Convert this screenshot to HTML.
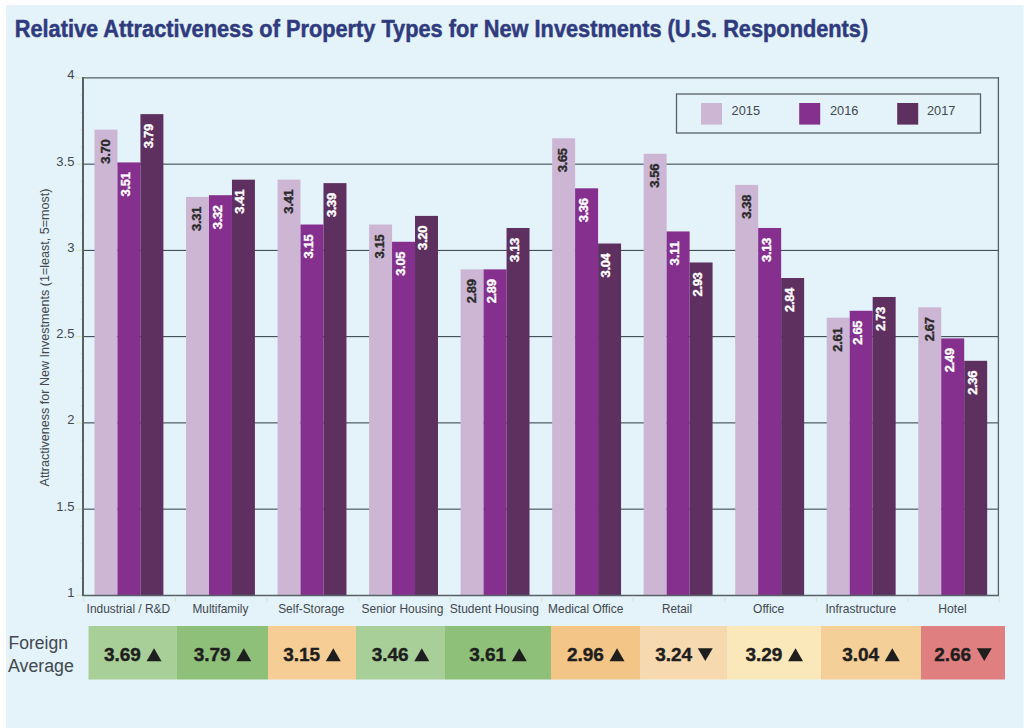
<!DOCTYPE html>
<html><head><meta charset="utf-8"><style>
html,body{margin:0;padding:0;background:#fff;}
body{width:1024px;height:728px;overflow:hidden;}
svg{display:block;}
text{font-family:"Liberation Sans",Arial,sans-serif;}
</style></head><body>
<svg width="1024" height="728" viewBox="0 0 1024 728">
<rect x="0" y="0" width="1024" height="728" fill="#ffffff"/>
<rect x="6" y="5" width="1017" height="723" fill="#e4f2fa"/>
<rect x="1023" y="5" width="1" height="723" fill="#eef8fc"/>

<text x="14.7" y="36.8" font-size="23.8" font-weight="bold" fill="#2f3b7e" stroke="#2f3b7e" stroke-width="0.5" textLength="853.5" lengthAdjust="spacingAndGlyphs">Relative Attractiveness of Property Types for New Investments (U.S. Respondents)</text>
<line x1="84.0" y1="77.90" x2="998.4" y2="77.90" stroke="#2e3b42" stroke-width="1"/>
<line x1="84.0" y1="164.15" x2="998.4" y2="164.15" stroke="#2e3b42" stroke-width="1"/>
<line x1="84.0" y1="250.40" x2="998.4" y2="250.40" stroke="#2e3b42" stroke-width="1"/>
<line x1="84.0" y1="336.65" x2="998.4" y2="336.65" stroke="#2e3b42" stroke-width="1"/>
<line x1="84.0" y1="422.90" x2="998.4" y2="422.90" stroke="#2e3b42" stroke-width="1"/>
<line x1="84.0" y1="509.15" x2="998.4" y2="509.15" stroke="#2e3b42" stroke-width="1"/>
<line x1="76" y1="595.40" x2="82" y2="595.40" stroke="#d9e8b4" stroke-width="1"/>
<line x1="80" y1="578.15" x2="82" y2="578.15" stroke="#dce9d0" stroke-width="1"/>
<line x1="80" y1="560.90" x2="82" y2="560.90" stroke="#dce9d0" stroke-width="1"/>
<line x1="80" y1="543.65" x2="82" y2="543.65" stroke="#dce9d0" stroke-width="1"/>
<line x1="80" y1="526.40" x2="82" y2="526.40" stroke="#dce9d0" stroke-width="1"/>
<line x1="76" y1="509.15" x2="82" y2="509.15" stroke="#d9e8b4" stroke-width="1"/>
<line x1="80" y1="491.90" x2="82" y2="491.90" stroke="#dce9d0" stroke-width="1"/>
<line x1="80" y1="474.65" x2="82" y2="474.65" stroke="#dce9d0" stroke-width="1"/>
<line x1="80" y1="457.40" x2="82" y2="457.40" stroke="#dce9d0" stroke-width="1"/>
<line x1="80" y1="440.15" x2="82" y2="440.15" stroke="#dce9d0" stroke-width="1"/>
<line x1="76" y1="422.90" x2="82" y2="422.90" stroke="#d9e8b4" stroke-width="1"/>
<line x1="80" y1="405.65" x2="82" y2="405.65" stroke="#dce9d0" stroke-width="1"/>
<line x1="80" y1="388.40" x2="82" y2="388.40" stroke="#dce9d0" stroke-width="1"/>
<line x1="80" y1="371.15" x2="82" y2="371.15" stroke="#dce9d0" stroke-width="1"/>
<line x1="80" y1="353.90" x2="82" y2="353.90" stroke="#dce9d0" stroke-width="1"/>
<line x1="76" y1="336.65" x2="82" y2="336.65" stroke="#d9e8b4" stroke-width="1"/>
<line x1="80" y1="319.40" x2="82" y2="319.40" stroke="#dce9d0" stroke-width="1"/>
<line x1="80" y1="302.15" x2="82" y2="302.15" stroke="#dce9d0" stroke-width="1"/>
<line x1="80" y1="284.90" x2="82" y2="284.90" stroke="#dce9d0" stroke-width="1"/>
<line x1="80" y1="267.65" x2="82" y2="267.65" stroke="#dce9d0" stroke-width="1"/>
<line x1="76" y1="250.40" x2="82" y2="250.40" stroke="#d9e8b4" stroke-width="1"/>
<line x1="80" y1="233.15" x2="82" y2="233.15" stroke="#dce9d0" stroke-width="1"/>
<line x1="80" y1="215.90" x2="82" y2="215.90" stroke="#dce9d0" stroke-width="1"/>
<line x1="80" y1="198.65" x2="82" y2="198.65" stroke="#dce9d0" stroke-width="1"/>
<line x1="80" y1="181.40" x2="82" y2="181.40" stroke="#dce9d0" stroke-width="1"/>
<line x1="76" y1="164.15" x2="82" y2="164.15" stroke="#d9e8b4" stroke-width="1"/>
<line x1="80" y1="146.90" x2="82" y2="146.90" stroke="#dce9d0" stroke-width="1"/>
<line x1="80" y1="129.65" x2="82" y2="129.65" stroke="#dce9d0" stroke-width="1"/>
<line x1="80" y1="112.40" x2="82" y2="112.40" stroke="#dce9d0" stroke-width="1"/>
<line x1="80" y1="95.15" x2="82" y2="95.15" stroke="#dce9d0" stroke-width="1"/>
<line x1="76" y1="77.90" x2="82" y2="77.90" stroke="#d9e8b4" stroke-width="1"/>
<text x="74.4" y="79.40" font-size="13" fill="#41484e" text-anchor="end">4</text>
<text x="74.4" y="165.65" font-size="13" fill="#41484e" text-anchor="end">3.5</text>
<text x="74.4" y="251.90" font-size="13" fill="#41484e" text-anchor="end">3</text>
<text x="74.4" y="338.15" font-size="13" fill="#41484e" text-anchor="end">2.5</text>
<text x="74.4" y="424.40" font-size="13" fill="#41484e" text-anchor="end">2</text>
<text x="74.4" y="510.65" font-size="13" fill="#41484e" text-anchor="end">1.5</text>
<text x="74.4" y="596.90" font-size="13" fill="#41484e" text-anchor="end">1</text>
<text transform="translate(49.1,486.5) rotate(-90)" font-size="12.4" fill="#41484e" textLength="298" lengthAdjust="spacingAndGlyphs">Attractiveness for New Investments (1=least, 5=most)</text>
<rect x="94.49" y="129.65" width="22.97" height="466.35" fill="#cdb6d3"/>
<text transform="translate(109.82,139.35) rotate(-90)" font-size="13" font-weight="bold" fill="#2a2a2a" stroke="#2a2a2a" stroke-width="0.35" text-anchor="end" textLength="24.3" lengthAdjust="spacing">3.70</text>
<rect x="117.46" y="162.43" width="22.97" height="433.57" fill="#85308f"/>
<text transform="translate(130.09,172.13) rotate(-90)" font-size="13" font-weight="bold" fill="#ffffff" stroke="#ffffff" stroke-width="0.35" text-anchor="end" textLength="24.3" lengthAdjust="spacing">3.51</text>
<rect x="140.43" y="114.12" width="22.97" height="481.88" fill="#5e3060"/>
<text transform="translate(152.82,123.83) rotate(-90)" font-size="13" font-weight="bold" fill="#ffffff" stroke="#ffffff" stroke-width="0.35" text-anchor="end" textLength="24.3" lengthAdjust="spacing">3.79</text>
<rect x="186.02" y="196.93" width="22.97" height="399.07" fill="#cdb6d3"/>
<text transform="translate(201.35,206.62) rotate(-90)" font-size="13" font-weight="bold" fill="#2a2a2a" stroke="#2a2a2a" stroke-width="0.35" text-anchor="end" textLength="24.3" lengthAdjust="spacing">3.31</text>
<rect x="208.99" y="195.20" width="22.97" height="400.80" fill="#85308f"/>
<text transform="translate(221.63,204.90) rotate(-90)" font-size="13" font-weight="bold" fill="#ffffff" stroke="#ffffff" stroke-width="0.35" text-anchor="end" textLength="24.3" lengthAdjust="spacing">3.32</text>
<rect x="231.96" y="179.67" width="22.97" height="416.33" fill="#5e3060"/>
<text transform="translate(244.34,189.37) rotate(-90)" font-size="13" font-weight="bold" fill="#ffffff" stroke="#ffffff" stroke-width="0.35" text-anchor="end" textLength="24.3" lengthAdjust="spacing">3.41</text>
<rect x="277.55" y="179.67" width="22.97" height="416.33" fill="#cdb6d3"/>
<text transform="translate(292.89,189.37) rotate(-90)" font-size="13" font-weight="bold" fill="#2a2a2a" stroke="#2a2a2a" stroke-width="0.35" text-anchor="end" textLength="24.3" lengthAdjust="spacing">3.41</text>
<rect x="300.52" y="224.53" width="22.97" height="371.47" fill="#85308f"/>
<text transform="translate(313.15,234.23) rotate(-90)" font-size="13" font-weight="bold" fill="#ffffff" stroke="#ffffff" stroke-width="0.35" text-anchor="end" textLength="24.3" lengthAdjust="spacing">3.15</text>
<rect x="323.49" y="183.12" width="22.97" height="412.88" fill="#5e3060"/>
<text transform="translate(335.88,192.82) rotate(-90)" font-size="13" font-weight="bold" fill="#ffffff" stroke="#ffffff" stroke-width="0.35" text-anchor="end" textLength="24.3" lengthAdjust="spacing">3.39</text>
<rect x="369.08" y="224.53" width="22.97" height="371.47" fill="#cdb6d3"/>
<text transform="translate(384.42,234.23) rotate(-90)" font-size="13" font-weight="bold" fill="#2a2a2a" stroke="#2a2a2a" stroke-width="0.35" text-anchor="end" textLength="24.3" lengthAdjust="spacing">3.15</text>
<rect x="392.05" y="241.78" width="22.97" height="354.22" fill="#85308f"/>
<text transform="translate(404.69,251.48) rotate(-90)" font-size="13" font-weight="bold" fill="#ffffff" stroke="#ffffff" stroke-width="0.35" text-anchor="end" textLength="24.3" lengthAdjust="spacing">3.05</text>
<rect x="415.02" y="215.90" width="22.97" height="380.10" fill="#5e3060"/>
<text transform="translate(427.41,225.60) rotate(-90)" font-size="13" font-weight="bold" fill="#ffffff" stroke="#ffffff" stroke-width="0.35" text-anchor="end" textLength="24.3" lengthAdjust="spacing">3.20</text>
<rect x="460.61" y="269.38" width="22.97" height="326.62" fill="#cdb6d3"/>
<text transform="translate(475.95,279.07) rotate(-90)" font-size="13" font-weight="bold" fill="#2a2a2a" stroke="#2a2a2a" stroke-width="0.35" text-anchor="end" textLength="24.3" lengthAdjust="spacing">2.89</text>
<rect x="483.58" y="269.38" width="22.97" height="326.62" fill="#85308f"/>
<text transform="translate(496.22,279.07) rotate(-90)" font-size="13" font-weight="bold" fill="#ffffff" stroke="#ffffff" stroke-width="0.35" text-anchor="end" textLength="24.3" lengthAdjust="spacing">2.89</text>
<rect x="506.55" y="227.98" width="22.97" height="368.02" fill="#5e3060"/>
<text transform="translate(518.93,237.68) rotate(-90)" font-size="13" font-weight="bold" fill="#ffffff" stroke="#ffffff" stroke-width="0.35" text-anchor="end" textLength="24.3" lengthAdjust="spacing">3.13</text>
<rect x="552.14" y="138.28" width="22.97" height="457.72" fill="#cdb6d3"/>
<text transform="translate(567.48,147.98) rotate(-90)" font-size="13" font-weight="bold" fill="#2a2a2a" stroke="#2a2a2a" stroke-width="0.35" text-anchor="end" textLength="24.3" lengthAdjust="spacing">3.65</text>
<rect x="575.11" y="188.30" width="22.97" height="407.70" fill="#85308f"/>
<text transform="translate(587.75,198.00) rotate(-90)" font-size="13" font-weight="bold" fill="#ffffff" stroke="#ffffff" stroke-width="0.35" text-anchor="end" textLength="24.3" lengthAdjust="spacing">3.36</text>
<rect x="598.08" y="243.50" width="22.97" height="352.50" fill="#5e3060"/>
<text transform="translate(610.46,253.20) rotate(-90)" font-size="13" font-weight="bold" fill="#ffffff" stroke="#ffffff" stroke-width="0.35" text-anchor="end" textLength="24.3" lengthAdjust="spacing">3.04</text>
<rect x="643.67" y="153.80" width="22.97" height="442.20" fill="#cdb6d3"/>
<text transform="translate(659.01,163.50) rotate(-90)" font-size="13" font-weight="bold" fill="#2a2a2a" stroke="#2a2a2a" stroke-width="0.35" text-anchor="end" textLength="24.3" lengthAdjust="spacing">3.56</text>
<rect x="666.64" y="231.43" width="22.97" height="364.57" fill="#85308f"/>
<text transform="translate(679.28,241.13) rotate(-90)" font-size="13" font-weight="bold" fill="#ffffff" stroke="#ffffff" stroke-width="0.35" text-anchor="end" textLength="24.3" lengthAdjust="spacing">3.11</text>
<rect x="689.61" y="262.47" width="22.97" height="333.53" fill="#5e3060"/>
<text transform="translate(702.00,272.17) rotate(-90)" font-size="13" font-weight="bold" fill="#ffffff" stroke="#ffffff" stroke-width="0.35" text-anchor="end" textLength="24.3" lengthAdjust="spacing">2.93</text>
<rect x="735.20" y="184.85" width="22.97" height="411.15" fill="#cdb6d3"/>
<text transform="translate(750.54,194.55) rotate(-90)" font-size="13" font-weight="bold" fill="#2a2a2a" stroke="#2a2a2a" stroke-width="0.35" text-anchor="end" textLength="24.3" lengthAdjust="spacing">3.38</text>
<rect x="758.17" y="227.98" width="22.97" height="368.02" fill="#85308f"/>
<text transform="translate(770.81,237.68) rotate(-90)" font-size="13" font-weight="bold" fill="#ffffff" stroke="#ffffff" stroke-width="0.35" text-anchor="end" textLength="24.3" lengthAdjust="spacing">3.13</text>
<rect x="781.14" y="278.00" width="22.97" height="318.00" fill="#5e3060"/>
<text transform="translate(793.53,287.70) rotate(-90)" font-size="13" font-weight="bold" fill="#ffffff" stroke="#ffffff" stroke-width="0.35" text-anchor="end" textLength="24.3" lengthAdjust="spacing">2.84</text>
<rect x="826.73" y="317.68" width="22.97" height="278.32" fill="#cdb6d3"/>
<text transform="translate(842.07,327.38) rotate(-90)" font-size="13" font-weight="bold" fill="#2a2a2a" stroke="#2a2a2a" stroke-width="0.35" text-anchor="end" textLength="24.3" lengthAdjust="spacing">2.61</text>
<rect x="849.70" y="310.78" width="22.97" height="285.22" fill="#85308f"/>
<text transform="translate(862.34,320.48) rotate(-90)" font-size="13" font-weight="bold" fill="#ffffff" stroke="#ffffff" stroke-width="0.35" text-anchor="end" textLength="24.3" lengthAdjust="spacing">2.65</text>
<rect x="872.67" y="296.98" width="22.97" height="299.02" fill="#5e3060"/>
<text transform="translate(885.06,306.68) rotate(-90)" font-size="13" font-weight="bold" fill="#ffffff" stroke="#ffffff" stroke-width="0.35" text-anchor="end" textLength="24.3" lengthAdjust="spacing">2.73</text>
<rect x="918.26" y="307.33" width="22.97" height="288.67" fill="#cdb6d3"/>
<text transform="translate(933.60,317.03) rotate(-90)" font-size="13" font-weight="bold" fill="#2a2a2a" stroke="#2a2a2a" stroke-width="0.35" text-anchor="end" textLength="24.3" lengthAdjust="spacing">2.67</text>
<rect x="941.23" y="338.38" width="22.97" height="257.62" fill="#85308f"/>
<text transform="translate(953.87,348.07) rotate(-90)" font-size="13" font-weight="bold" fill="#ffffff" stroke="#ffffff" stroke-width="0.35" text-anchor="end" textLength="24.3" lengthAdjust="spacing">2.49</text>
<rect x="964.20" y="360.80" width="22.97" height="235.20" fill="#5e3060"/>
<text transform="translate(976.59,370.50) rotate(-90)" font-size="13" font-weight="bold" fill="#ffffff" stroke="#ffffff" stroke-width="0.35" text-anchor="end" textLength="24.3" lengthAdjust="spacing">2.36</text>
<line x1="83" y1="77" x2="83" y2="596" stroke="#576066" stroke-width="2"/>
<line x1="82" y1="595.5" x2="998.4" y2="595.5" stroke="#576066" stroke-width="1.3"/>
<line x1="998.4" y1="77" x2="998.4" y2="596" stroke="#576066" stroke-width="1.3"/>
<line x1="84.00" y1="596" x2="84.00" y2="602" stroke="#d6e4d4" stroke-width="1"/>
<line x1="175.53" y1="596" x2="175.53" y2="602" stroke="#d6e4d4" stroke-width="1"/>
<line x1="267.06" y1="596" x2="267.06" y2="602" stroke="#d6e4d4" stroke-width="1"/>
<line x1="358.59" y1="596" x2="358.59" y2="602" stroke="#d6e4d4" stroke-width="1"/>
<line x1="450.12" y1="596" x2="450.12" y2="602" stroke="#d6e4d4" stroke-width="1"/>
<line x1="541.65" y1="596" x2="541.65" y2="602" stroke="#d6e4d4" stroke-width="1"/>
<line x1="633.18" y1="596" x2="633.18" y2="602" stroke="#d6e4d4" stroke-width="1"/>
<line x1="724.71" y1="596" x2="724.71" y2="602" stroke="#d6e4d4" stroke-width="1"/>
<line x1="816.24" y1="596" x2="816.24" y2="602" stroke="#d6e4d4" stroke-width="1"/>
<line x1="907.77" y1="596" x2="907.77" y2="602" stroke="#d6e4d4" stroke-width="1"/>
<line x1="999.30" y1="596" x2="999.30" y2="602" stroke="#d6e4d4" stroke-width="1"/>
<text x="128.40" y="613.2" font-size="13.6" fill="#41484e" text-anchor="middle" textLength="83.6" lengthAdjust="spacingAndGlyphs">Industrial / R&amp;D</text>
<text x="220.40" y="613.2" font-size="13.6" fill="#41484e" text-anchor="middle" textLength="55.8" lengthAdjust="spacingAndGlyphs">Multifamily</text>
<text x="311.30" y="613.2" font-size="13.6" fill="#41484e" text-anchor="middle" textLength="66.3" lengthAdjust="spacingAndGlyphs">Self-Storage</text>
<text x="402.40" y="613.2" font-size="13.6" fill="#41484e" text-anchor="middle" textLength="81.8" lengthAdjust="spacingAndGlyphs">Senior Housing</text>
<text x="494.30" y="613.2" font-size="13.6" fill="#41484e" text-anchor="middle" textLength="89.1" lengthAdjust="spacingAndGlyphs">Student Housing</text>
<text x="585.70" y="613.2" font-size="13.6" fill="#41484e" text-anchor="middle" textLength="75.2" lengthAdjust="spacingAndGlyphs">Medical Office</text>
<text x="677.10" y="613.2" font-size="13.6" fill="#41484e" text-anchor="middle" textLength="30.0" lengthAdjust="spacingAndGlyphs">Retail</text>
<text x="768.70" y="613.2" font-size="13.6" fill="#41484e" text-anchor="middle" textLength="31.2" lengthAdjust="spacingAndGlyphs">Office</text>
<text x="860.80" y="613.2" font-size="13.6" fill="#41484e" text-anchor="middle" textLength="70.8" lengthAdjust="spacingAndGlyphs">Infrastructure</text>
<text x="952.50" y="613.2" font-size="13.6" fill="#41484e" text-anchor="middle" textLength="28.4" lengthAdjust="spacingAndGlyphs">Hotel</text>
<rect x="676.5" y="94" width="304" height="39" fill="none" stroke="#576066" stroke-width="1.3"/>
<rect x="701" y="103" width="21" height="21.6" fill="#cdb6d3"/>
<text x="731.6" y="114.6" font-size="13" fill="#41484e" textLength="28.4" lengthAdjust="spacingAndGlyphs">2015</text>
<rect x="799.2" y="103" width="21" height="21.6" fill="#85308f"/>
<text x="830" y="114.6" font-size="13" fill="#41484e" textLength="28.4" lengthAdjust="spacingAndGlyphs">2016</text>
<rect x="897.2" y="103" width="21" height="21.6" fill="#5e3060"/>
<text x="927" y="114.6" font-size="13" fill="#41484e" textLength="28.4" lengthAdjust="spacingAndGlyphs">2017</text>
<text x="8.6" y="648.8" font-size="18" fill="#41484e" textLength="59.4" lengthAdjust="spacingAndGlyphs">Foreign</text>
<text x="8.0" y="672.1" font-size="18" fill="#41484e" textLength="65.8" lengthAdjust="spacingAndGlyphs">Average</text>
<rect x="88.5" y="626" width="88.5" height="53.5" fill="#a9cf98"/>
<text x="103.96" y="661.4" font-size="19.0" font-weight="bold" fill="#1e1e1e" stroke="#1e1e1e" stroke-width="0.4">3.69</text>
<polygon points="146.54,661.2 161.54,661.2 154.04,648.2" fill="#1e1e1e"/>
<rect x="177" y="626" width="91" height="53.5" fill="#8fc07a"/>
<text x="193.71" y="661.4" font-size="19.0" font-weight="bold" fill="#1e1e1e" stroke="#1e1e1e" stroke-width="0.4">3.79</text>
<polygon points="236.29,661.2 251.29,661.2 243.79,648.2" fill="#1e1e1e"/>
<rect x="268" y="626" width="88" height="53.5" fill="#f5cd95"/>
<text x="283.21" y="661.4" font-size="19.0" font-weight="bold" fill="#1e1e1e" stroke="#1e1e1e" stroke-width="0.4">3.15</text>
<polygon points="325.79,661.2 340.79,661.2 333.29,648.2" fill="#1e1e1e"/>
<rect x="356" y="626" width="89" height="53.5" fill="#a9cf98"/>
<text x="371.71" y="661.4" font-size="19.0" font-weight="bold" fill="#1e1e1e" stroke="#1e1e1e" stroke-width="0.4">3.46</text>
<polygon points="414.29,661.2 429.29,661.2 421.79,648.2" fill="#1e1e1e"/>
<rect x="445" y="626" width="106" height="53.5" fill="#8fc07a"/>
<text x="469.21" y="661.4" font-size="19.0" font-weight="bold" fill="#1e1e1e" stroke="#1e1e1e" stroke-width="0.4">3.61</text>
<polygon points="511.79,661.2 526.79,661.2 519.29,648.2" fill="#1e1e1e"/>
<rect x="551" y="626" width="89.5" height="53.5" fill="#f3c586"/>
<text x="566.96" y="661.4" font-size="19.0" font-weight="bold" fill="#1e1e1e" stroke="#1e1e1e" stroke-width="0.4">2.96</text>
<polygon points="609.54,661.2 624.54,661.2 617.04,648.2" fill="#1e1e1e"/>
<rect x="640.5" y="626" width="87.0" height="53.5" fill="#f7d9b0"/>
<text x="655.21" y="661.4" font-size="19.0" font-weight="bold" fill="#1e1e1e" stroke="#1e1e1e" stroke-width="0.4">3.24</text>
<polygon points="697.79,648.2 712.79,648.2 705.29,660.9" fill="#1e1e1e"/>
<rect x="727.5" y="626" width="93.5" height="53.5" fill="#fbe8ba"/>
<text x="745.46" y="661.4" font-size="19.0" font-weight="bold" fill="#1e1e1e" stroke="#1e1e1e" stroke-width="0.4">3.29</text>
<polygon points="788.04,661.2 803.04,661.2 795.54,648.2" fill="#1e1e1e"/>
<rect x="821" y="626" width="100" height="53.5" fill="#f5cf98"/>
<text x="842.21" y="661.4" font-size="19.0" font-weight="bold" fill="#1e1e1e" stroke="#1e1e1e" stroke-width="0.4">3.04</text>
<polygon points="884.79,661.2 899.79,661.2 892.29,648.2" fill="#1e1e1e"/>
<rect x="921" y="626" width="84" height="53.5" fill="#e07f80"/>
<text x="934.21" y="661.4" font-size="19.0" font-weight="bold" fill="#1e1e1e" stroke="#1e1e1e" stroke-width="0.4">2.66</text>
<polygon points="976.79,648.2 991.79,648.2 984.29,660.9" fill="#1e1e1e"/>
</svg></body></html>
